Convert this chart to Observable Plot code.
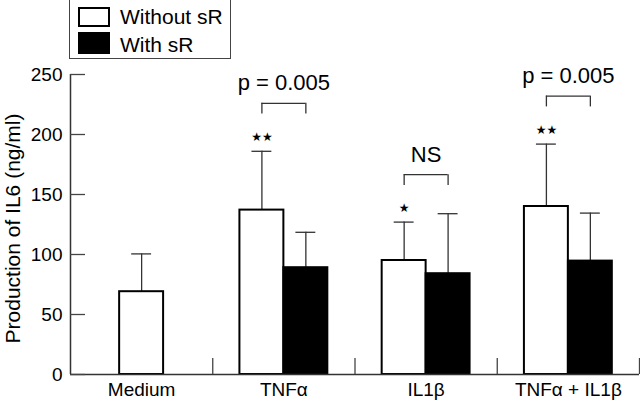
<!DOCTYPE html>
<html>
<head>
<meta charset="utf-8">
<script src="https://cdn.jsdelivr.net/npm/d3@7"></script>
<script src="https://cdn.jsdelivr.net/npm/@observablehq/plot@0.6"></script>
<style>
  body { margin: 0; background: white; font-family: "Liberation Sans", Arial, sans-serif; }
  #legend { position: relative; width: 640px; height: 60px; }
  #legend .box { position: absolute; left: 69px; top: -2px; width: 162px; height: 61px; border: 1.5px solid #444; box-sizing: border-box; }
  #legend .sw { position: absolute; left: 78px; width: 32px; box-sizing: border-box; border: 2px solid #000; }
  #legend .lab { position: absolute; left: 120px; font-size: 21px; line-height: 20px; color: #000; white-space: nowrap; }
  #chart svg { display: block; }
</style>
</head>
<body>
<div id="legend"></div>
<div id="chart"></div>
<script>
const categories = ["Medium", "TNFα", "IL1β", "TNFα + IL1β"];
const seriesNames = ["Without sR", "With sR"];
const withoutMean = [69, 137, 95, 140];
const withoutUpper = [100.5, 186, 127, 192];
const withMean = [null, 89, 84, 94.5];
const withUpper = [null, 118.5, 134, 134.5];
const starLabels = ["", "★★", "★", "★★"];
const compCategory = [1, 2, 3];
const compLabels = ["p = 0.005", "NS", "p = 0.005"];
const compLevels = [226, 166.5, 232];
const yTicks = [0, 50, 100, 150, 200, 250];
const yLabel = "Production of IL6 (ng/ml)";

const colors = {"Without sR": "white", "With sR": "black"};

// legend
const lg = document.getElementById("legend");
lg.innerHTML = `<div class="box"></div>
  <div class="sw" style="top:7px;height:20px;background:${colors[seriesNames[0]]}"></div>
  <div class="lab" style="top:7px">${seriesNames[0]}</div>
  <div class="sw" style="top:32px;height:22px;background:${colors[seriesNames[1]]}"></div>
  <div class="lab" style="top:35px">${seriesNames[1]}</div>`;

const BW = 0.309;   // bar width in category units
const CAP = 0.07;   // half cap width

const bars = [];
categories.forEach((c, i) => {
  const center = i + 0.5;
  const hasWith = withMean[i] != null;
  if (hasWith) {
    bars.push({cat: c, series: seriesNames[0], x1: center - BW, x2: center, cx: center - BW / 2, mean: withoutMean[i], upper: withoutUpper[i], star: starLabels[i]});
    bars.push({cat: c, series: seriesNames[1], x1: center, x2: center + BW, cx: center + BW / 2, mean: withMean[i], upper: withUpper[i], star: ""});
  } else {
    bars.push({cat: c, series: seriesNames[0], x1: center - BW / 2, x2: center + BW / 2, cx: center, mean: withoutMean[i], upper: withoutUpper[i], star: starLabels[i]});
  }
});

const comps = compCategory.map((ci, k) => ({
  left: ci + 0.5 - BW / 2,
  right: ci + 0.5 + BW / 2,
  mid: ci + 0.5,
  level: compLevels[k],
  label: compLabels[k]
}));
const legs = comps.flatMap(d => [{x: d.left, level: d.level}, {x: d.right, level: d.level}]);
const LEG = 9;

const W = 640, H = 340, ML = 70, MR = 1, MT = 14, MB = 26;
const frameW = W - ML - MR, frameH = H - MT - MB;

const plot = Plot.plot({
  width: W,
  height: H,
  marginLeft: ML,
  marginRight: MR,
  marginTop: MT,
  marginBottom: MB,
  style: {fontFamily: "'Liberation Sans', Arial, sans-serif", fontSize: "19px", color: "black", background: "white"},
  x: {domain: [0, categories.length], axis: null},
  y: {domain: [0, 250], axis: null},
  marks: [
    // error bars
    Plot.ruleX(bars, {x: "cx", y1: "mean", y2: "upper", stroke: "#333", strokeWidth: 1.3}),
    Plot.ruleY(bars, {y: "upper", x1: d => d.cx - CAP, x2: d => d.cx + CAP, stroke: "#333", strokeWidth: 1.3}),
    // bars
    Plot.rectY(bars, {x1: "x1", x2: "x2", y1: 0, y2: "mean", fill: d => colors[d.series], stroke: "black", strokeWidth: 2}),
    // axes
    Plot.ruleX([0], {y1: 0, y2: 250, stroke: "#333", strokeWidth: 1.5}),
    Plot.ruleY([0], {stroke: "#333", strokeWidth: 1.5}),
    Plot.tickY(yTicks, {y: d => d, insetRight: frameW - 15, stroke: "#444", strokeWidth: 1.3}),
    Plot.tickX(d3.range(1, categories.length + 1), {x: d => d, insetTop: frameH - 16, stroke: "#444", strokeWidth: 1.3}),
    Plot.text(yTicks, {y: d => d, text: d => String(d), frameAnchor: "left", textAnchor: "end", dx: -8, fontSize: 19}),
    Plot.text(categories, {x: (d, i) => i + 0.5, y: 0, text: d => d, lineAnchor: "top", dy: 8, fontSize: 19}),
    Plot.text([yLabel], {frameAnchor: "left", textAnchor: "middle", text: d => d, rotate: -90, dx: -57, dy: 4, fontSize: 21}),
    // stars
    Plot.text(bars.filter(d => d.star), {x: "cx", y: "upper", text: "star", dy: -14, fontSize: 12, fontFamily: "DejaVu Sans", letterSpacing: 0.5}),
    // comparison brackets
    Plot.ruleY(comps, {y: "level", x1: "left", x2: "right", stroke: "#333", strokeWidth: 1.3}),
    Plot.ruleX(legs, {x: "x", y1: d => d.level - LEG, y2: "level", stroke: "#333", strokeWidth: 1.3}),
    Plot.text(comps, {x: "mid", y: "level", text: "label", lineAnchor: "bottom", dy: -13, fontSize: 22})
  ]
});
document.getElementById("chart").appendChild(plot);
</script>
</body>
</html>
